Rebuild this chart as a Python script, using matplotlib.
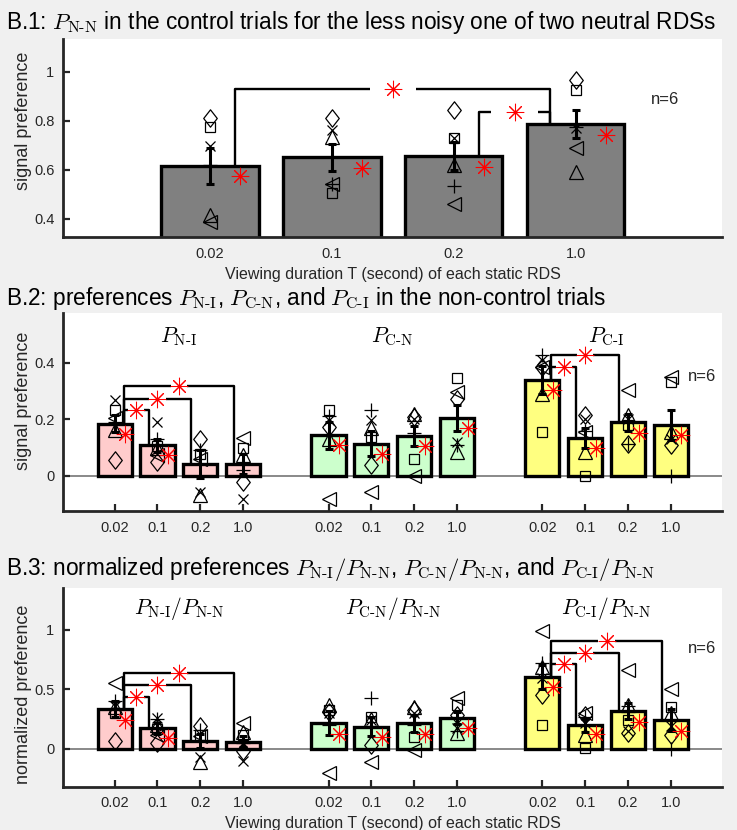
import numpy as np
import matplotlib
matplotlib.use('Agg')
import matplotlib.pyplot as plt
from matplotlib.path import Path

plt.rcParams['font.family'] = ['Liberation Sans', 'DejaVu Sans']
plt.rcParams['mathtext.fontset'] = 'cm'

# ---------------- data ----------------
durations = ['0.02', '0.1', '0.2', '1.0']

# B.1: P_N-N (control trials)
pnn_mean = [0.615, 0.65, 0.655, 0.785]
pnn_sem = [0.072, 0.055, 0.056, 0.058]
pnn_star = [0.575, 0.605, 0.61, 0.74]
# subject values, order of subjects: diamond, square, x, tri-up, tri-left, plus
pnn_subj = [[0.81, 0.775, 0.695, 0.415, 0.385, 0.62],
            [0.81, 0.505, 0.762, 0.735, 0.54, 0.54],
            [0.845, 0.73, 0.73, 0.62, 0.46, 0.535],
            [0.965, 0.925, 0.77, 0.59, 0.69, 0.775]]

# B.2: P_N-I, P_C-N, P_C-I
b2_mean = [0.185, 0.108, 0.042, 0.042,
           0.144, 0.114, 0.14, 0.205,
           0.338, 0.135, 0.19, 0.179]
b2_sem = [0.03, 0.024, 0.048, 0.035,
          0.047, 0.045, 0.035, 0.045,
          0.05, 0.035, 0.03, 0.053]
b2_star = [0.149, 0.073, None, None,
           0.108, 0.079, 0.105, 0.17,
           0.305, 0.1, 0.153, 0.143]
b2_subj = [[0.055, 0.232, 0.267, 0.161, 0.206, 0.19],
           [0.05, 0.105, 0.19, 0.10, 0.075, 0.13],
           [0.132, 0.079, -0.055, -0.068, 0.06, 0.09],
           [-0.021, 0.1, -0.08, 0.073, 0.135, 0.02],
           [0.173, 0.232, 0.196, 0.132, -0.08, 0.21],
           [0.038, 0.138, 0.196, 0.17, -0.056, 0.232],
           [0.208, 0.061, 0.2, 0.22, 0.0, 0.15],
           [0.273, 0.344, 0.12, 0.085, 0.296, 0.11],
           [0.385, 0.155, 0.408, 0.29, 0.385, 0.426],
           [0.214, 0.0, 0.2, 0.085, 0.155, 0.16],
           [0.114, 0.18, 0.2, 0.214, 0.305, 0.114],
           [0.108, 0.332, 0.13, 0.155, 0.35, 0.0]]

# B.3: normalized preferences
b3_mean = [0.333, 0.174, 0.067, 0.062,
           0.216, 0.188, 0.216, 0.258,
           0.608, 0.2, 0.32, 0.244]
b3_sem = [0.067, 0.045, 0.06, 0.045,
          0.1, 0.08, 0.073, 0.05,
          0.1, 0.055, 0.07, 0.095]
b3_star = [0.244, 0.09, None, None,
           0.126, 0.104, 0.126, 0.174,
           0.524, 0.126, 0.23, 0.154]
b3_subj = [[0.07, 0.3, 0.36, 0.356, 0.552, 0.4],
           [0.053, 0.17, 0.258, 0.2, 0.12, 0.25],
           [0.19, 0.12, -0.065, -0.106, 0.11, 0.16],
           [-0.02, 0.12, -0.1, 0.146, 0.22, 0.05],
           [0.31, 0.33, 0.3, 0.37, -0.2, 0.2],
           [0.034, 0.272, 0.24, 0.25, -0.106, 0.426],
           [0.33, 0.098, 0.3, 0.356, -0.008, 0.2],
           [0.286, 0.37, 0.18, 0.132, 0.426, 0.15],
           [0.454, 0.2, 0.6, 0.69, 0.994, 0.72],
           [0.286, 0.006, 0.22, 0.118, 0.3, 0.27],
           [0.132, 0.244, 0.15, 0.37, 0.664, 0.36],
           [0.118, 0.356, 0.19, 0.3, 0.5, 0.0]]

# significance brackets: (bar index a, bar index b, height)
b1_brackets = [(0, 3, 0.93), (2, 3, 0.835)]
b2_brackets = [(0, 1, 0.232), (0, 2, 0.273), (0, 3, 0.316),
               (8, 9, 0.385), (8, 10, 0.428)]
b3_brackets = [(0, 1, 0.434), (0, 2, 0.538), (0, 3, 0.641),
               (8, 9, 0.714), (8, 10, 0.81), (8, 11, 0.908)]

group_labels_b2 = [r'$P_{\mathrm{N\text{-}I}}$', r'$P_{\mathrm{C\text{-}N}}$', r'$P_{\mathrm{C\text{-}I}}$']
group_labels_b3 = [r'$P_{\mathrm{N\text{-}I}}/P_{\mathrm{N\text{-}N}}$',
                   r'$P_{\mathrm{C\text{-}N}}/P_{\mathrm{N\text{-}N}}$',
                   r'$P_{\mathrm{C\text{-}I}}/P_{\mathrm{N\text{-}N}}$']

# ---------------- style ----------------
W, H = 737, 830
DARK = '#262626'
gray_face = '#808080'
group_colors = ['#ffcccc', '#ccffcc', '#ffff80']

diamond = Path([(0, 1), (0.78, 0), (0, -1), (-0.78, 0), (0, 1)],
               [Path.MOVETO, Path.LINETO, Path.LINETO, Path.LINETO, Path.CLOSEPOLY])
subj_markers = [(diamond, 12.5), ('s', 7.5), ('x', 7), ('^', 10), ('<', 10.5), ('+', 9.5)]
STAR = (8, 2, 0)

fig = plt.figure(figsize=(W / 100, H / 100), dpi=100, facecolor='#f0f0f0')


def add_ax(top, bottom):
    left, right = 63.4, 722
    return fig.add_axes([left / W, 1 - bottom / H, (right - left) / W, (bottom - top) / H])


def style_ax(ax, xlim, ylim, yticks, yticklabels, xpos):
    ax.set_facecolor('white')
    ax.set_xlim(*xlim)
    ax.set_ylim(*ylim)
    for s in ['top', 'right']:
        ax.spines[s].set_visible(False)
    for s in ['left', 'bottom']:
        ax.spines[s].set_linewidth(2)
        ax.spines[s].set_color(DARK)
    ax.set_yticks(yticks)
    ax.set_yticklabels(yticklabels)
    ax.set_xticks(xpos)
    ax.set_xticklabels(durations * (len(xpos) // 4))
    ax.tick_params(axis='both', direction='in', length=5, width=1.6, colors=DARK, labelsize=10.5)
    ax.tick_params(axis='x', pad=7)
    ax.tick_params(axis='y', pad=6.5)
    for t in ax.get_xticklines() + ax.get_yticklines():
        t.set_zorder(6)


def draw_bars(ax, xpos, means, sems, stars, subj, colors):
    ax.bar(xpos, means, width=0.8, color=colors, edgecolor='black', linewidth=2.4, zorder=2)
    for i, x in enumerate(xpos):
        for (m, ms), v in zip(subj_markers, subj[i]):
            ax.plot([x], [v], marker=m, ms=ms, mfc='none', mec='black', mew=0.9,
                    linestyle='none', zorder=3, clip_on=False)
    ax.errorbar(xpos, means, yerr=sems, fmt='none', ecolor='black', elinewidth=2.2,
                capsize=2.6, capthick=2.2, zorder=4)
    for x, s in zip(xpos, stars):
        if s is not None:
            ax.plot([x + 0.25], [s], marker=STAR, ms=12.5, mec='red', mfc='none', mew=0.75,
                    linestyle='none', zorder=5)


def draw_brackets(ax, xpos, means, brackets, gap=0.19):
    for a, b, h in brackets:
        x1 = xpos[a] + 0.21
        x2 = xpos[b] - 0.21
        xm = (x1 + x2) / 2
        kw = dict(color='black', lw=1.7, zorder=4, solid_capstyle='butt')
        ax.plot([x1, x1, xm - gap], [means[a], h, h], **kw)
        ax.plot([xm + gap, x2, x2], [h, h, means[b]], **kw)
        ax.plot([xm], [h], marker=STAR, ms=12.5, mec='red', mfc='none', mew=0.75,
                linestyle='none', zorder=5)


# ---------------- B.1 ----------------
ax1 = add_ax(39, 237)
x1pos = [1, 2, 3, 4]
style_ax(ax1, (-0.2, 5.2), (0.325, 1.133), [0.4, 0.6, 0.8, 1.0], ['0.4', '0.6', '0.8', '1'], x1pos)
draw_bars(ax1, x1pos, pnn_mean, pnn_sem, pnn_star, pnn_subj, [gray_face] * 4)
draw_brackets(ax1, x1pos, pnn_mean, b1_brackets)
ax1.text(4.73, 0.885, 'n=6', fontsize=12, ha='center', va='center', color=DARK)

# ---------------- B.2 ----------------
xpos = [1, 2, 3, 4, 6, 7, 8, 9, 11, 12, 13, 14]
colors12 = [c for c in group_colors for _ in range(4)]
ax2 = add_ax(313.3, 511)
style_ax(ax2, (-0.2, 15.2), (-0.1235, 0.574), [0, 0.2, 0.4], ['0', '0.2', '0.4'], xpos)
ax2.axhline(0, color='#808080', lw=1.3, zorder=1)
draw_bars(ax2, xpos, b2_mean, b2_sem, b2_star, b2_subj, colors12)
draw_brackets(ax2, xpos, b2_mean, b2_brackets)
for gx, lab in zip([2.5, 7.5, 12.5], group_labels_b2):
    ax2.text(gx, 0.49, lab, fontsize=15.5, ha='center', va='center')
ax2.text(14.74, 0.35, 'n=6', fontsize=12, ha='center', va='center', color=DARK)

# ---------------- B.3 ----------------
ax3 = add_ax(588.3, 786.7)
style_ax(ax3, (-0.2, 15.2), (-0.317, 1.35), [0, 0.5, 1.0], ['0', '0.5', '1'], xpos)
ax3.axhline(0, color='#808080', lw=1.3, zorder=1)
draw_bars(ax3, xpos, b3_mean, b3_sem, b3_star, b3_subj, colors12)
draw_brackets(ax3, xpos, b3_mean, b3_brackets)
for gx, lab in zip([2.5, 7.5, 12.5], group_labels_b3):
    ax3.text(gx, 1.18, lab, fontsize=15.5, ha='center', va='center')
ax3.text(14.74, 0.84, 'n=6', fontsize=12, ha='center', va='center', color=DARK)

# ---------------- titles / labels ----------------
tfs = 16.3
fig.text(6 / W, 1 - 28.5 / H,
         r'B.1: $P_{\mathrm{N\text{-}N}}$ in the control trials for the less noisy one of two neutral RDSs',
         fontsize=tfs, ha='left', va='baseline')
fig.text(6 / W, 1 - 305 / H,
         r'B.2: preferences $P_{\mathrm{N\text{-}I}}$, $P_{\mathrm{C\text{-}N}}$, and $P_{\mathrm{C\text{-}I}}$ in the non-control trials',
         fontsize=tfs, ha='left', va='baseline')
fig.text(6 / W, 1 - 575 / H,
         r'B.3: normalized preferences $P_{\mathrm{N\text{-}I}}/P_{\mathrm{N\text{-}N}}$, '
         r'$P_{\mathrm{C\text{-}N}}/P_{\mathrm{N\text{-}N}}$, and $P_{\mathrm{C\text{-}I}}/P_{\mathrm{N\text{-}N}}$',
         fontsize=tfs, ha='left', va='baseline')

xc = (63.4 + 722) / 2 / W
fig.text(xc, 1 - 279 / H, 'Viewing duration T (second) of each static RDS',
         fontsize=11.5, ha='center', va='baseline', color=DARK)
fig.text(xc, 1 - 828 / H, 'Viewing duration T (second) of each static RDS',
         fontsize=11.5, ha='center', va='baseline', color=DARK)

fig.text(23.5 / W, 1 - 121 / H, 'signal preference', rotation=90, fontsize=13,
         ha='center', va='center', color=DARK)
fig.text(23.5 / W, 1 - 401 / H, 'signal preference', rotation=90, fontsize=13,
         ha='center', va='center', color=DARK)
fig.text(23.5 / W, 1 - 694 / H, 'normalized preference', rotation=90, fontsize=13,
         ha='center', va='center', color=DARK)

fig.savefig('out.png', dpi=100, facecolor=fig.get_facecolor())
